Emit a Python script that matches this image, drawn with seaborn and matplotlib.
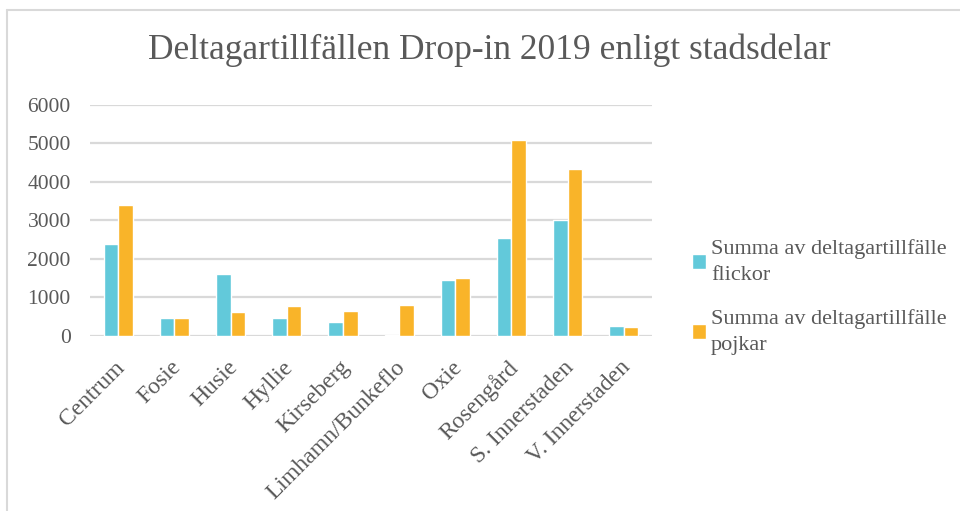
import matplotlib
import matplotlib.pyplot as plt
import matplotlib.transforms as mtransforms
import pandas as pd
import seaborn as sns

matplotlib.use("Agg")

# Values
districts = [
    "Centrum", "Fosie", "Husie", "Hyllie", "Kirseberg",
    "Limhamn/Bunkeflo", "Oxie", "Rosengård", "S. Innerstaden", "V. Innerstaden",
]
flickor = [2380, 475, 1610, 475, 365, 25, 1455, 2540, 3010, 250]
pojkar = [3410, 465, 615, 785, 650, 805, 1505, 5080, 4320, 235]
series_labels = [
    "Summa av deltagartillfälle\nflickor",
    "Summa av deltagartillfälle\npojkar",
]
y_ticks = [0, 1000, 2000, 3000, 4000, 5000, 6000]
title = "Deltagartillfällen Drop-in 2019 enligt stadsdelar"

TEXT = "#595959"
GRID = "#d9d9d9"
COLORS = ["#62c9da", "#f9b429"]

df = pd.DataFrame({
    "district": districts * 2,
    "serie": [series_labels[0]] * len(districts) + [series_labels[1]] * len(districts),
    "value": flickor + pojkar,
})

sns.set_theme(style="white")
plt.rcParams["font.family"] = ["Liberation Serif", "DejaVu Serif"]

fig = plt.figure(figsize=(9.6, 5.11), dpi=100)
ax = fig.add_axes([0.094, 0.3425, 0.585, 0.4525])

sns.barplot(
    data=df, x="district", y="value", hue="serie", palette=COLORS,
    saturation=1, width=0.52, edgecolor="white", linewidth=1.0, ax=ax, legend=True,
)

ax.set_ylim(0, 6000)
ax.set_yticks(y_ticks)
ax.set_yticklabels([str(t) for t in y_ticks], color=TEXT, fontsize=15.5)
ax.set_xlim(-0.5, len(districts) - 0.5)
ax.set_xlabel("")
ax.set_ylabel("")
ax.grid(axis="y", color=GRID, linewidth=1.6)
ax.set_axisbelow(True)
for side in ["top", "right", "left", "bottom"]:
    ax.spines[side].set_visible(False)
ax.tick_params(axis="both", length=0)
ax.tick_params(axis="y", pad=14)
ax.tick_params(axis="x", pad=15)
shift = mtransforms.ScaledTranslation(-4 / 100, 0, fig.dpi_scale_trans)
for lbl in ax.get_xticklabels():
    lbl.set_rotation(45)
    lbl.set_ha("right")
    lbl.set_rotation_mode("anchor")
    lbl.set_color(TEXT)
    lbl.set_fontsize(17)
    lbl.set_transform(lbl.get_transform() + shift)

handles, labels = ax.get_legend_handles_labels()
ax.get_legend().remove()
leg = fig.legend(
    handles, labels, loc="upper left", bbox_to_anchor=(0.7, 0.572),
    frameon=False, fontsize=16, labelcolor=TEXT, handlelength=0.65,
    handleheight=0.65, handletextpad=0.2, labelspacing=1.05,
)
for t in leg.get_texts():
    t.set_linespacing(1.55)

fig.suptitle(title, x=0.51, y=0.935, fontsize=25.5, color=TEXT)

# light chart-area border (top and left edges visible in the reference)
fig.add_artist(plt.Line2D([0.007, 1.0], [0.981, 0.981], color=GRID, linewidth=1.5))
fig.add_artist(plt.Line2D([0.007, 0.007], [0.0, 0.981], color=GRID, linewidth=1.5))

fig.savefig("out.png", dpi=100)
